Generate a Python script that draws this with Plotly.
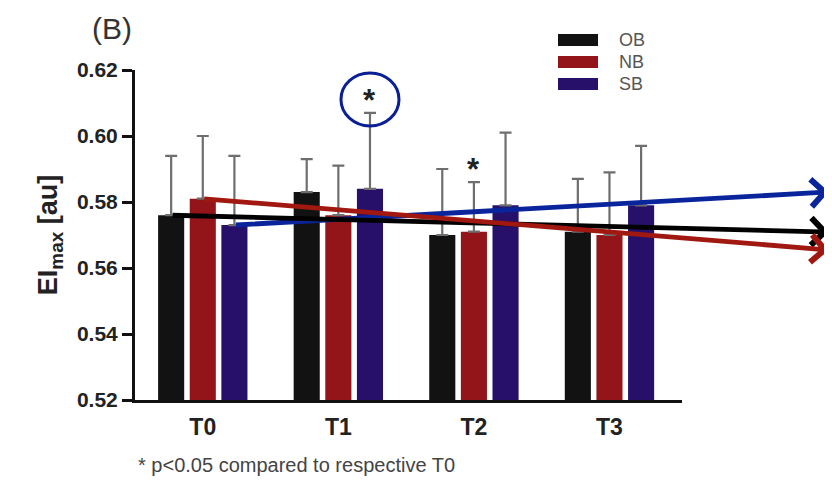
import plotly.graph_objects as go

# ---------------- data ----------------
timepoints = ["T0", "T1", "T2", "T3"]
series_names = ["OB", "NB", "SB"]
ob_mean = [0.576, 0.583, 0.570, 0.571]
nb_mean = [0.581, 0.576, 0.571, 0.570]
sb_mean = [0.573, 0.584, 0.579, 0.579]
ob_sd = [0.018, 0.010, 0.020, 0.016]
nb_sd = [0.019, 0.015, 0.015, 0.019]
sb_sd = [0.021, 0.023, 0.022, 0.018]
y_ticks = [0.52, 0.54, 0.56, 0.58, 0.60, 0.62]
footnote = "* p<0.05 compared to respective T0"
panel_label = "(B)"
# significance marks: (timepoint index, series index)
sig_marks = [(1, 2), (2, 1)]
circled_mark = (1, 2)
# trend arrows: series index -> arrow head y (page pixel)
trend_arrow_heads = {2: 192, 0: 232, 1: 250}

# ---------------- styles / geometry ----------------
bar_colors = ["#121212", "#941519", "#26106a"]
arrow_colors = ["#000000", "#a0180f", "#0a259c"]
FONT = "Arial, Liberation Sans, Helvetica, sans-serif"

OFF = 8                      # page body margin
PAGE_W, PAGE_H = 832, 480
W, H = PAGE_W - OFF, PAGE_H - OFF
# plot area in page pixels
PL, PR, PT, PB = 135, 682, 70, 400
L, T = PL - OFF, PT - OFF
R, B = PAGE_W - PR, PAGE_H - PB
PW, PH = PR - PL, PB - PT
X0, X1 = -0.5, 3.535
Y0, Y1 = 0.52, 0.62
BARGAP, GROUPGAP = 0.30, 0.175

means = [ob_mean, nb_mean, sb_mean]
sds = [ob_sd, nb_sd, sb_sd]

slot = (1 - BARGAP) / 3.0


def xpos(ti, si):
    return ti + (si - 1) * slot


def xpx(v):
    return PL + (v - X0) / (X1 - X0) * PW


def ypx(v):
    return PT + (Y1 - v) / (Y1 - Y0) * PH


def paper_x(px):
    return (px - PL) / PW


def paper_y(py):
    return (PB - py) / PH


fig = go.Figure()
for si, name in enumerate(series_names):
    fig.add_trace(go.Bar(
        x=timepoints, y=means[si], name=name,
        marker=dict(color=bar_colors[si], line=dict(width=0)),
        error_y=dict(type="data", symmetric=False, array=sds[si],
                     arrayminus=[0] * len(sds[si]),
                     color="#6e6e6e", thickness=2.2, width=6),
        showlegend=False,
    ))

annotations = []
shapes = []

# significance asterisks
for ti, si in sig_marks:
    top = means[si][ti] + sds[si][ti]
    annotations.append(dict(
        x=xpos(ti, si), y=top, xref="x", yref="y", text="<b>*</b>",
        showarrow=False, yanchor="bottom", yshift=-7,
        font=dict(family=FONT, size=31, color="#222222"),
    ))

# circle around the T1 SB asterisk
ti, si = circled_mark
top = means[si][ti] + sds[si][ti]
shapes.append(dict(
    type="circle", xref="x", yref="y", xsizemode="pixel", ysizemode="pixel",
    xanchor=xpos(ti, si), yanchor=top, x0=-29, x1=29, y0=-13, y1=40,
    line=dict(color="#0a1f96", width=3), fillcolor="rgba(0,0,0,0)", layer="above",
))

# trend arrows from each T0 bar top to the right edge
head_px = 829
for si in [2, 0, 1]:
    tx = xpx(xpos(0, si))
    ty = ypx(means[si][0])
    hy = trend_arrow_heads[si]
    annotations.append(dict(
        xref="paper", yref="paper",
        x=paper_x(head_px), y=paper_y(hy),
        ax=tx - head_px, ay=ty - hy, axref="pixel", ayref="pixel",
        text="", showarrow=True, arrowhead=4, arrowsize=1.1,
        arrowwidth=4.8, arrowcolor=arrow_colors[si], standoff=0,
    ))

# custom legend with long swatches
legend_rows = [40, 62, 84]
for si, name in enumerate(series_names):
    cy = legend_rows[si]
    shapes.append(dict(
        type="rect", xref="paper", yref="paper",
        x0=paper_x(558), x1=paper_x(598),
        y0=paper_y(cy + 6), y1=paper_y(cy - 6),
        fillcolor=bar_colors[si], line=dict(width=0),
    ))
    annotations.append(dict(
        xref="paper", yref="paper", x=paper_x(617), y=paper_y(cy),
        xanchor="left", yanchor="middle", showarrow=False, text=name,
        font=dict(family=FONT, size=18, color="#555555"),
    ))

# panel label and footnote
annotations.append(dict(
    xref="paper", yref="paper", x=paper_x(112), y=paper_y(28),
    xanchor="center", yanchor="middle", showarrow=False, text=panel_label,
    font=dict(family=FONT, size=30, color="#333333"),
))
annotations.append(dict(
    xref="paper", yref="paper", x=paper_x(136), y=paper_y(465),
    xanchor="left", yanchor="middle", showarrow=False, text=footnote,
    font=dict(family=FONT, size=20, color="#444444"),
))

fig.update_layout(
    width=W, height=H,
    margin=dict(l=L, r=R, t=T, b=B, pad=0, autoexpand=False),
    paper_bgcolor="white", plot_bgcolor="white",
    barmode="group", bargap=BARGAP, bargroupgap=GROUPGAP,
    annotations=annotations, shapes=shapes,
    font=dict(family=FONT, color="#222222"),
)
fig.update_xaxes(
    range=[X0, X1], showgrid=False, zeroline=False, automargin=False,
    showline=True, linecolor="#111111", linewidth=3,
    ticks="", ticklabelstandoff=4,
    tickfont=dict(family=FONT, size=23, color="#222222"),
    tickprefix="<b>", ticksuffix="</b>",
)
fig.update_yaxes(
    range=[Y0, Y1], tickvals=y_ticks, ticktext=[f"<b>{v:.2f}</b>" for v in y_ticks],
    showgrid=False, zeroline=False, automargin=False,
    showline=True, linecolor="#111111", linewidth=3,
    ticks="outside", ticklen=10, tickwidth=3, tickcolor="#111111",
    tickfont=dict(family=FONT, size=21, color="#222222"),
    title=dict(text="<b>EI<sub>max</sub> [au]</b>", standoff=12,
               font=dict(family=FONT, size=27, color="#222222")),
)

fig.write_html("out.html")
